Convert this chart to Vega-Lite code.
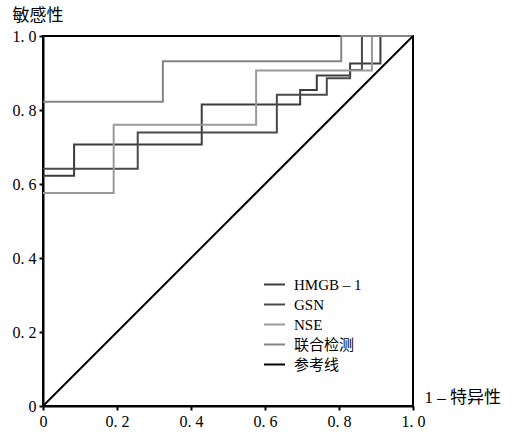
{
  "$schema": "https://vega.github.io/schema/vega-lite/v6.json",
  "autosize": "none",
  "width": 370,
  "height": 370,
  "padding": {"left": 43, "top": 36, "right": 100, "bottom": 26},
  "background": "white",
  "data": {
    "values": [
      {"series": "HMGB – 1", "i": 0, "x": 0, "y": 0.622},
      {"series": "HMGB – 1", "i": 1, "x": 0.084, "y": 0.622},
      {"series": "HMGB – 1", "i": 2, "x": 0.084, "y": 0.707},
      {"series": "HMGB – 1", "i": 3, "x": 0.429, "y": 0.707},
      {"series": "HMGB – 1", "i": 4, "x": 0.429, "y": 0.815},
      {"series": "HMGB – 1", "i": 5, "x": 0.695, "y": 0.815},
      {"series": "HMGB – 1", "i": 6, "x": 0.695, "y": 0.854},
      {"series": "HMGB – 1", "i": 7, "x": 0.74, "y": 0.854},
      {"series": "HMGB – 1", "i": 8, "x": 0.74, "y": 0.893},
      {"series": "HMGB – 1", "i": 9, "x": 0.83, "y": 0.893},
      {"series": "HMGB – 1", "i": 10, "x": 0.83, "y": 0.926},
      {"series": "HMGB – 1", "i": 11, "x": 0.912, "y": 0.926},
      {"series": "HMGB – 1", "i": 12, "x": 0.912, "y": 1},
      {"series": "HMGB – 1", "i": 13, "x": 1, "y": 1},
      {"series": "GSN", "i": 0, "x": 0, "y": 0.641},
      {"series": "GSN", "i": 1, "x": 0.256, "y": 0.641},
      {"series": "GSN", "i": 2, "x": 0.256, "y": 0.739},
      {"series": "GSN", "i": 3, "x": 0.632, "y": 0.739},
      {"series": "GSN", "i": 4, "x": 0.632, "y": 0.841},
      {"series": "GSN", "i": 5, "x": 0.767, "y": 0.841},
      {"series": "GSN", "i": 6, "x": 0.767, "y": 0.886},
      {"series": "GSN", "i": 7, "x": 0.83, "y": 0.886},
      {"series": "GSN", "i": 8, "x": 0.83, "y": 0.908},
      {"series": "GSN", "i": 9, "x": 0.862, "y": 0.908},
      {"series": "GSN", "i": 10, "x": 0.862, "y": 1},
      {"series": "GSN", "i": 11, "x": 1, "y": 1},
      {"series": "NSE", "i": 0, "x": 0, "y": 0.576},
      {"series": "NSE", "i": 1, "x": 0.191, "y": 0.576},
      {"series": "NSE", "i": 2, "x": 0.191, "y": 0.76},
      {"series": "NSE", "i": 3, "x": 0.576, "y": 0.76},
      {"series": "NSE", "i": 4, "x": 0.576, "y": 0.907},
      {"series": "NSE", "i": 5, "x": 0.889, "y": 0.907},
      {"series": "NSE", "i": 6, "x": 0.889, "y": 1},
      {"series": "NSE", "i": 7, "x": 1, "y": 1},
      {"series": "联合检测", "i": 0, "x": 0, "y": 0.822},
      {"series": "联合检测", "i": 1, "x": 0.324, "y": 0.822},
      {"series": "联合检测", "i": 2, "x": 0.324, "y": 0.932},
      {"series": "联合检测", "i": 3, "x": 0.806, "y": 0.932},
      {"series": "联合检测", "i": 4, "x": 0.806, "y": 1},
      {"series": "联合检测", "i": 5, "x": 1, "y": 1},
      {"series": "参考线", "i": 0, "x": 0, "y": 0},
      {"series": "参考线", "i": 1, "x": 1, "y": 1}
    ]
  },
  "mark": {"type": "line", "strokeWidth": 2, "interpolate": "linear"},
  "encoding": {
    "x": {
      "field": "x", "type": "quantitative",
      "scale": {"domain": [0, 1], "nice": false},
      "axis": {
        "values": [0, 0.2, 0.4, 0.6, 0.8, 1],
        "labelExpr": "datum.value == 0 ? '0' : replace(format(datum.value, '.1f'), '.', '. ')",
        "title": "1 – 特异性",
        "titleAnchor": "start",
        "titleAlign": "left",
        "titleBaseline": "middle",
        "titleX": 381,
        "titleY": -9,
        "labelFlush": false
      }
    },
    "y": {
      "field": "y", "type": "quantitative",
      "scale": {"domain": [0, 1], "nice": false},
      "axis": {
        "values": [0, 0.2, 0.4, 0.6, 0.8, 1],
        "labelExpr": "datum.value == 0 ? '0' : replace(format(datum.value, '.1f'), '.', '. ')",
        "title": "敏感性",
        "titleAngle": 0,
        "titleAlign": "left",
        "titleBaseline": "middle",
        "titleX": -31,
        "titleY": -21,
        "labelFlush": false
      }
    },
    "order": {"field": "i", "type": "quantitative"},
    "color": {
      "field": "series", "type": "nominal",
      "scale": {
        "domain": ["HMGB – 1", "GSN", "NSE", "联合检测", "参考线"],
        "range": ["#3c3c3c", "#4a4a4a", "#9a9a9a", "#858585", "#000000"]
      },
      "legend": {
        "title": null,
        "orient": "none",
        "legendX": 220,
        "legendY": 237,
        "symbolType": "stroke",
        "symbolSize": 441,
        "symbolStrokeWidth": 2,
        "labelOffset": 8,
        "rowPadding": -4,
        "labelFont": "Liberation Serif, Noto Sans CJK SC",
        "labelFontSize": 15,
        "labelColor": "black"
      }
    }
  },
  "config": {
    "view": {"stroke": "black", "strokeWidth": 2},
    "axis": {
      "grid": false,
      "domainColor": "black",
      "domainWidth": 2,
      "tickColor": "black",
      "tickWidth": 2,
      "tickSize": 4,
      "labelFont": "Liberation Serif",
      "labelFontSize": 16,
      "labelColor": "black",
      "labelPadding": 3,
      "titleFont": "Liberation Serif, Noto Sans CJK SC",
      "titleFontSize": 17,
      "titleFontWeight": "normal",
      "titleColor": "black"
    }
  }
}
